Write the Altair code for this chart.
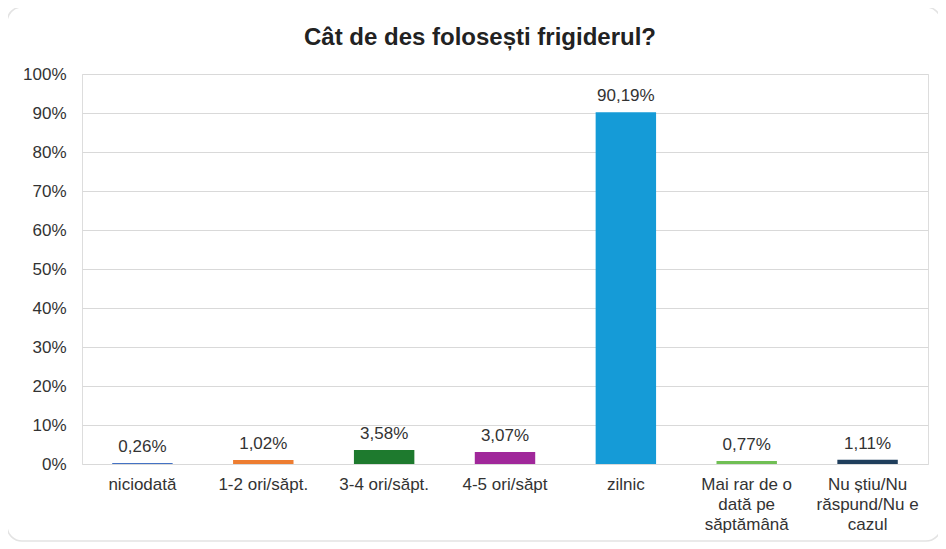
import altair as alt
import pandas as pd

categories = [
    "niciodată",
    "1-2 ori/săpt.",
    "3-4 ori/săpt.",
    "4-5 ori/săpt",
    "zilnic",
    "Mai rar de o\ndată pe\nsăptămână",
    "Nu știu/Nu\nrăspund/Nu e\ncazul",
]
values = [0.26, 1.02, 3.58, 3.07, 90.19, 0.77, 1.11]
colors = ["#4472C4", "#ED7D31", "#1E7A2E", "#A0279A", "#159BD7", "#70BF54", "#1F3E5C"]
title_text = "Cât de des folosești frigiderul?"
y_ticks = [0, 10, 20, 30, 40, 50, 60, 70, 80, 90, 100]

df = pd.DataFrame({"cat": categories, "val": values, "color": colors})
df["label"] = [f"{v:.2f}".replace(".", ",") + "%" for v in values]

FONT = "Liberation Sans"
W, H = 846, 390

x_axis = alt.Axis(
    title=None,
    labelAngle=0,
    labelFontSize=17,
    labelColor="#333333",
    labelFont=FONT,
    labelPadding=12,
    labelLimit=0,
    labelLineHeight=20,
    labelExpr="split(datum.label, '\\n')",
    ticks=False,
    domain=False,
    grid=False,
)
y_axis = alt.Axis(
    title=None,
    values=y_ticks,
    tickCount=20,
    labelOverlap=False,
    labelExpr="datum.value + '%'",
    labelFontSize=17,
    labelColor="#333333",
    labelFont=FONT,
    labelPadding=16,
    ticks=False,
    domain=False,
    gridColor="#d9d9d9",
    gridWidth=1,
)
x_scale = alt.Scale(paddingInner=0.5, paddingOuter=0.25)
y_scale = alt.Scale(domain=[0, 100], nice=False)

base = alt.Chart(df)

bars = base.mark_bar().encode(
    x=alt.X("cat:N", sort=categories, scale=x_scale, axis=x_axis),
    y=alt.Y("val:Q", scale=y_scale, axis=y_axis),
    color=alt.Color("color:N", scale=None),
)

texts = base.mark_text(
    baseline="alphabetic", dy=-11, fontSize=17, font=FONT, color="#333333"
).encode(
    x=alt.X("cat:N", sort=categories, scale=x_scale, axis=x_axis),
    y=alt.Y("val:Q", scale=y_scale, axis=y_axis),
    text="label:N",
)

deco = pd.DataFrame({"t": [title_text]})
border = alt.Chart(deco).mark_rect(
    fillOpacity=0, stroke="#e3e3e3", strokeWidth=1.5, cornerRadius=15
).encode(
    x=alt.value(-75), x2=alt.value(859), y=alt.value(-67), y2=alt.value(467)
)
title = alt.Chart(deco).mark_text(
    fontSize=24, fontWeight="bold", font=FONT, color="#222222", baseline="middle"
).encode(x=alt.value(398), y=alt.value(-36), text="t:N")

chart = (
    alt.layer(border, bars, texts, title)
    .properties(
        width=W,
        height=H,
        autosize=alt.AutoSizeParams(type="none"),
        padding={"left": 74, "top": 66, "right": 10, "bottom": 79},
    )
    .configure_view(stroke=None)
    .configure(background="white")
)

chart.save("out.html", embed_options={"renderer": "svg", "actions": False})
